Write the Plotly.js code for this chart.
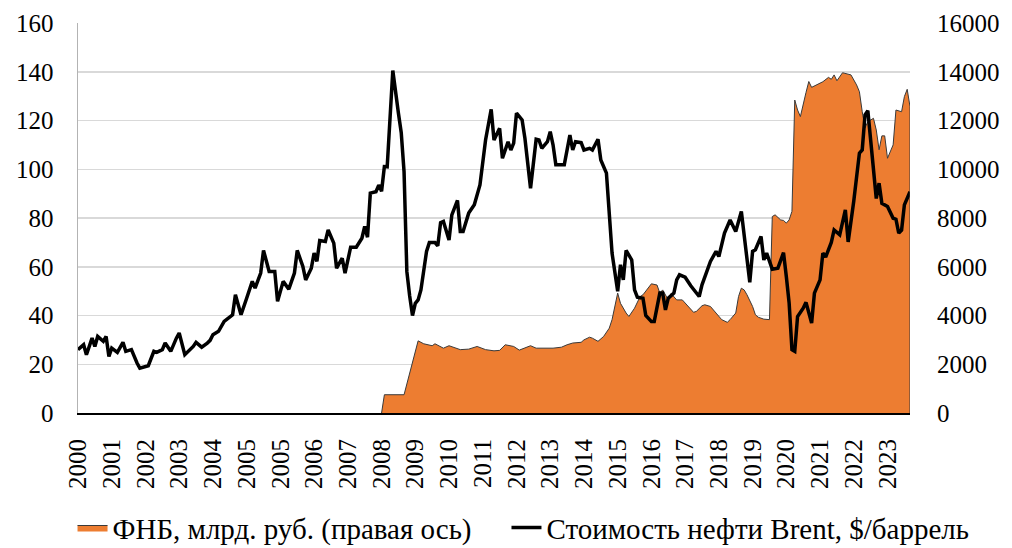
<!DOCTYPE html>
<html>
<head>
<meta charset="utf-8">
<script src="https://cdn.plot.ly/plotly-3.0.1.min.js"></script>
<style>html,body{margin:0;padding:0;background:#fff;}#chart{width:1012px;height:548px;}</style>
</head>
<body>
<div id="chart"></div>
<script>
// Category labels (one label every 12 points, as in the source)
const yearLabels = ['2000','2001','2002','2003','2004','2005','2005','2006','2007','2008','2009','2010','2011','2012','2013','2014','2015','2016','2017','2018','2019','2020','2021','2022','2023'];
const lastIndex = 296;

// Brent, $/barrel (point index, value)
const brentIdx = [0,2,3,5,6,7,9,10,11,12,14,16,17,19,21,22,25,27,28,30,31,33,35,36,38,41,42,44,46,47,48,50,52,54,55,56,58,60,62,63,65,66,68,70,71,73,75,77,78,80,81,83,84,85,86,88,89,91,92,94,95,97,99,101,102,103,104,106,107,108,109,110,111,112,114,115,116,117,118,119,120,121,122,124,125,127,128,129,130,132,133,135,136,137,139,141,143,145,147,148,150,151,153,154,155,156,158,159,161,162,163,164,165,167,168,169,170,173,175,176,177,179,180,182,183,185,186,188,189,190,192,193,194,195,197,198,199,201,202,204,205,207,208,209,210,212,213,214,216,218,221,222,225,227,228,230,232,234,236,237,238,239,240,241,243,244,245,247,249,251,252,253,254,255,256,258,259,261,262,264,265,266,268,269,271,273,274,276,278,279,280,281,282,283,284,285,286,288,290,291,292,293,294,296];
const brentVal = [26.0,28.0,23.9,30.7,27.3,31.4,29.4,31.4,23.2,26.6,24.9,29.0,25.3,26.0,20.5,18.4,19.4,25.3,24.9,26.0,28.7,25.3,30.7,32.8,23.9,27.3,29.0,27.0,28.7,29.8,32.1,33.5,37.6,39.6,40.3,48.5,40.3,47.1,54.0,51.2,57.4,66.7,58.1,58.1,45.8,54.0,50.8,57.4,66.7,60.1,54.6,59.4,65.6,62.2,70.8,70.4,75.1,69.7,59.4,63.5,57.4,68.0,68.0,71.7,76.5,72.1,90.2,90.8,93.5,91.0,101.1,101.0,120.0,140.5,123.0,115.0,99.0,58.0,48.0,40.0,45.0,46.4,50.5,66.3,69.9,69.9,68.6,78.1,78.6,71.0,81.3,87.2,74.5,74.5,82.0,85.4,93.6,112.0,124.6,112.0,116.8,104.5,111.3,107.9,110.7,123.0,120.2,112.7,92.2,101.0,112.3,112.0,108.6,111.3,115.4,110.0,101.8,101.8,114.0,107.9,111.3,110.9,107.9,108.6,107.9,112.3,103.8,98.4,83.3,65.6,49.9,60.8,54.6,66.7,62.8,50.5,47.5,47.1,40.0,37.5,37.5,49.2,49.2,42.3,47.1,49.2,54.6,56.7,55.7,52.2,47.8,52.6,62.2,66.3,64.2,73.8,79.2,74.5,82.7,73.8,62.8,53.6,66.3,67.0,72.4,62.8,65.6,59.0,59.4,65.8,56.0,45.1,26.0,25.3,39.6,43.0,45.4,36.9,49.2,54.6,65.6,64.0,70.0,75.1,73.1,83.3,70.2,87.0,106.6,107.9,122.3,124.0,112.0,100.0,88.0,94.3,86.0,84.7,79.9,79.5,73.8,75.0,85.4,90.8];

// FNB, bn rubles (right axis) (point index, value)
const fnbIdx = [108,109,116,121,123,126,127,130,132,136,139,142,145,148,150,152,155,157,161,163,169,172,174,176,179,180,182,183,185,187,189,190,192,193,195,196,198,200,201,203,204,206,207,208,210,211,212,213,215,216,219,220,222,223,225,227,229,231,232,234,235,236,237,238,240,241,242,244,246,247,248,250,251,252,253,254,255,256,257,259,260,261,263,265,267,268,269,270,272,274,275,277,278,279,280,281,283,284,285,286,287,288,290,291,293,294,295,296];
const fnbVal = [0,750,750,2960,2840,2760,2840,2660,2760,2600,2620,2730,2600,2550,2570,2800,2730,2580,2760,2660,2660,2700,2800,2870,2900,3000,3110,3070,2940,3140,3480,3830,4920,4500,4100,3960,4300,4780,4850,5150,5300,5250,4920,5050,4640,4900,4780,4640,4640,4500,4130,4170,4400,4440,4370,4100,3830,3720,3830,4100,4780,5120,5050,4850,4370,4030,3930,3850,3830,8060,8130,7920,7900,7790,7920,8270,12840,12430,12160,13150,13600,13360,13460,13590,13770,13690,13870,13630,13960,13900,13870,13460,13180,12360,11700,11950,12090,11610,10800,11370,11370,10450,11000,12430,12360,12980,13280,12570];

const font = '"Liberation Serif", "Times New Roman", "DejaVu Serif", serif';
const tickVals = yearLabels.map((_, k) => k * 12);

const traces = [
  {
    x: fnbIdx, y: fnbVal, type: 'scatter', mode: 'lines',
    name: 'ФНБ, млрд. руб. (правая ось)',
    fill: 'tozeroy', fillcolor: '#ED7D31',
    line: {color: '#3a3a3a', width: 1},
    yaxis: 'y', legend: 'legend', hoverinfo: 'skip'
  },
  {
    x: brentIdx, y: brentVal, type: 'scatter', mode: 'lines',
    name: 'Стоимость нефти Brent, $/баррель',
    line: {color: '#000000', width: 3.5},
    yaxis: 'y2', legend: 'legend2', hoverinfo: 'skip'
  }
];

const legendBase = {
  orientation: 'h', y: -0.294, yanchor: 'middle', xanchor: 'right',
  font: {family: font, size: 29, color: '#000'},
  itemwidth: 30, tracegroupgap: 0, bgcolor: 'rgba(0,0,0,0)'
};

const layout = {
  width: 1012, height: 548,
  margin: {l: 78, r: 102, t: 23, b: 135, autoexpand: false},
  paper_bgcolor: '#ffffff', plot_bgcolor: '#ffffff',
  font: {family: font, size: 25, color: '#000'},
  showlegend: true,
  legend: Object.assign({}, legendBase, {x: 0.479}),
  legend2: Object.assign({}, legendBase, {x: 1.0775}),
  xaxis: {
    type: 'linear', range: [0, lastIndex], fixedrange: true,
    tickmode: 'array', tickvals: tickVals, ticktext: yearLabels,
    tickangle: -90, ticks: '', showgrid: false, zeroline: false,
    showline: true, linecolor: '#000', linewidth: 2,
    ticklabelstandoff: 14,
    tickfont: {family: font, size: 25, color: '#000'}
  },
  yaxis: {
    side: 'right', range: [0, 16000], dtick: 2000, tick0: 0, tickformat: 'd',
    showgrid: true, gridcolor: '#d9d9d9', gridwidth: 1.5,
    zeroline: false, showline: false, ticks: '',
    ticklabelstandoff: 26,
    tickfont: {family: font, size: 25, color: '#000'}
  },
  yaxis2: {
    overlaying: 'y', side: 'left', range: [0, 160], dtick: 20, tick0: 0,
    showgrid: false, zeroline: false,
    showline: true, linecolor: '#b3b3b3', linewidth: 1.5, ticks: '',
    ticklabelstandoff: 18,
    tickfont: {family: font, size: 25, color: '#000'}
  },
  shapes: [{
    type: 'line', xref: 'x', yref: 'y',
    x0: fnbIdx[fnbIdx.length - 1], x1: fnbIdx[fnbIdx.length - 1],
    y0: 0, y1: fnbVal[fnbVal.length - 1],
    line: {color: '#3a3a3a', width: 1}
  }]
};

Plotly.newPlot('chart', traces, layout, {displayModeBar: false, staticPlot: true});
</script>
</body>
</html>
